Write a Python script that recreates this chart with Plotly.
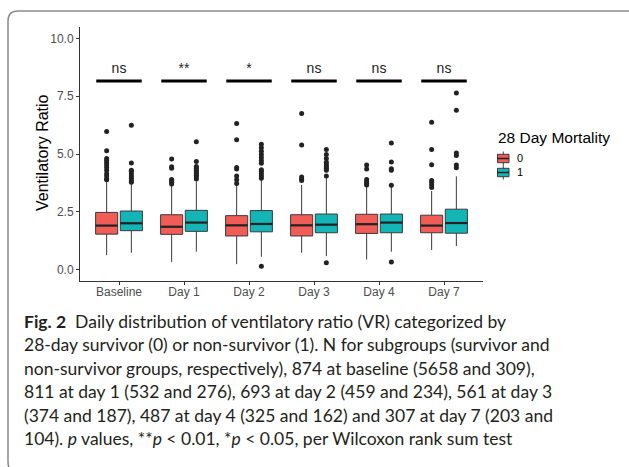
import plotly.graph_objects as go

categories = ["Baseline", "Day 1", "Day 2", "Day 3", "Day 4", "Day 7"]
groups = ["0", "1"]
group_colors = ["#F25C57", "#14B5B6"]

# precomputed box statistics per group (survivor 0, non-survivor 1)
q1 = {"0": [1.53, 1.52, 1.45, 1.45, 1.56, 1.59],
      "1": [1.68, 1.65, 1.63, 1.59, 1.59, 1.57]}
median = {"0": [1.90, 1.85, 1.91, 1.91, 1.96, 1.90],
          "1": [2.00, 2.03, 1.97, 1.94, 2.03, 2.01]}
q3 = {"0": [2.47, 2.37, 2.33, 2.37, 2.39, 2.35],
      "1": [2.53, 2.56, 2.55, 2.40, 2.40, 2.61]}
lowerfence = {"0": [0.62, 0.33, 0.23, 0.72, 0.43, 0.84],
              "1": [0.72, 0.77, 0.55, 0.58, 0.77, 1.01]}
upperfence = {"0": [3.82, 3.65, 3.66, 3.66, 3.60, 3.40],
              "1": [3.72, 3.80, 3.88, 3.98, 3.60, 4.03]}
outliers = {
    "0": [[3.88, 3.92, 4.05, 4.15, 4.30, 4.42, 4.52, 4.62, 4.72, 4.80, 5.14, 5.97],
          [3.70, 3.78, 3.85, 3.90, 4.38, 4.45, 4.78],
          [3.72, 3.88, 4.05, 4.35, 4.42, 5.62, 6.32],
          [3.85, 3.92, 4.00, 5.39, 6.75],
          [3.66, 3.72, 3.80, 3.90, 4.35, 4.52],
          [3.55, 3.67, 3.78, 3.85, 4.53, 5.20, 6.37]],
    "1": [[3.78, 3.85, 3.95, 4.05, 4.15, 4.25, 4.30, 4.61, 6.25],
          [3.92, 4.00, 4.08, 4.15, 4.22, 4.30, 4.38, 4.46, 4.68, 5.53],
          [0.14, 3.95, 4.05, 4.15, 4.25, 4.32, 4.60, 4.72, 4.85, 4.98, 5.12, 5.27, 5.42],
          [0.29, 4.05, 4.30, 4.38, 4.46, 4.55, 4.64, 4.80, 4.98, 5.19],
          [0.32, 3.65, 4.30, 4.36, 4.65, 5.48],
          [4.40, 4.52, 4.93, 5.04, 6.90, 7.64]],
}
sig_labels = ["ns", "**", "*", "ns", "ns", "ns"]
sig_y = 8.16

y_ticks = [0, 2.5, 5, 7.5, 10]
y_ticktext = ["0.0", "2.5", "5.0", "7.5", "10.0"]

dodge = {"0": -0.19, "1": 0.19}
box_w = 0.34
FONT = "Liberation Sans, Arial, sans-serif"
CAP_FONT = "Lato, Liberation Sans, sans-serif"

fig = go.Figure()
positions = list(range(1, len(categories) + 1))

for g, col in zip(groups, group_colors):
    xs = [p + dodge[g] for p in positions]
    fig.add_trace(go.Box(
        x=xs, q1=q1[g], median=median[g], q3=q3[g],
        lowerfence=lowerfence[g], upperfence=upperfence[g],
        width=box_w, whiskerwidth=0, fillcolor=col,
        line=dict(color="#3a3a3a", width=1), boxpoints=False,
        name=g, showlegend=False,
    ))
    # thicker median line (ggplot style)
    mx, my = [], []
    for x, m in zip(xs, median[g]):
        mx += [x - box_w / 2, x + box_w / 2, None]
        my += [m, m, None]
    fig.add_trace(go.Scatter(x=mx, y=my, mode="lines",
                             line=dict(color="#222222", width=2.2),
                             showlegend=False, hoverinfo="skip"))
    # outliers
    ox, oy = [], []
    for x, pts in zip(xs, outliers[g]):
        ox += [x] * len(pts)
        oy += pts
    fig.add_trace(go.Scatter(x=ox, y=oy, mode="markers",
                             marker=dict(color="#222222", size=5),
                             showlegend=False, hoverinfo="skip"))

# significance bars and labels
bx, by = [], []
for p in positions:
    bx += [p - 0.35, p + 0.35, None]
    by += [sig_y, sig_y, None]
fig.add_trace(go.Scatter(x=bx, y=by, mode="lines",
                         line=dict(color="black", width=3),
                         showlegend=False, hoverinfo="skip"))
fig.add_trace(go.Scatter(x=positions, y=[sig_y + 0.5] * len(positions),
                         mode="text", text=sig_labels,
                         textfont=dict(family=FONT, size=14, color="#222"),
                         showlegend=False, hoverinfo="skip"))

L, R, T, B = 80, 146, 27, 186
W, H = 629, 467
pw, ph = W - L - R, H - T - B


def px_x(x):
    return (x - L) / pw


def px_y(y):
    return (H - B - y) / ph


caption = [
    "<b>Fig. 2</b>  Daily distribution of ventilatory ratio (VR) categorized by",
    "28-day survivor (0) or non-survivor (1). N for subgroups (survivor and",
    "non-survivor groups, respectively), 874 at baseline (5658 and 309),",
    "811 at day 1 (532 and 276), 693 at day 2 (459 and 234), 561 at day 3",
    "(374 and 187), 487 at day 4 (325 and 162) and 307 at day 7 (203 and",
    "104). <i>p</i> values, **<i>p</i> < 0.01, *<i>p</i> < 0.05, per Wilcoxon rank sum test",
]
cap_y = [321, 344.5, 368, 391.5, 415, 438.5]
annotations = []
for txt, yy in zip(caption, cap_y):
    annotations.append(dict(
        text=txt, xref="paper", yref="paper", x=px_x(22), y=px_y(yy),
        xanchor="left", yanchor="middle", showarrow=False,
        font=dict(family=CAP_FONT, size=17.5, color="#231f20")))
annotations.append(dict(
    text="Ventilatory Ratio", xref="paper", yref="paper", x=px_x(42), y=px_y(153),
    xanchor="center", yanchor="middle", textangle=-90, showarrow=False,
    font=dict(family=FONT, size=16, color="black")))

# legend (manual, ggplot-like)
annotations.append(dict(
    text="28 Day Mortality", xref="paper", yref="paper", x=px_x(496), y=px_y(137.5),
    xanchor="left", yanchor="middle", showarrow=False,
    font=dict(family=FONT, size=15.5, color="black")))
shapes = []
key_y = [158.5, 172.5]
for g, col, ky in zip(groups, group_colors, key_y):
    kx0, kx1 = 497.5, 509
    cx = (kx0 + kx1) / 2
    shapes.append(dict(type="line", xref="paper", yref="paper",
                       x0=px_x(cx), x1=px_x(cx), y0=px_y(ky - 7), y1=px_y(ky + 7),
                       line=dict(color="#3a3a3a", width=1)))
    shapes.append(dict(type="rect", xref="paper", yref="paper",
                       x0=px_x(kx0), x1=px_x(kx1), y0=px_y(ky - 4.2), y1=px_y(ky + 4.2),
                       fillcolor=col, line=dict(color="#3a3a3a", width=1)))
    shapes.append(dict(type="line", xref="paper", yref="paper",
                       x0=px_x(kx0), x1=px_x(kx1), y0=px_y(ky), y1=px_y(ky),
                       line=dict(color="#222", width=1.5)))
annotations.append(dict(
    text="<br>".join(groups), xref="paper", yref="paper", x=px_x(515),
    y=px_y((key_y[0] + key_y[1]) / 2), align="left",
    xanchor="left", yanchor="middle", showarrow=False,
    font=dict(family=FONT, size=11, color="black")))

# rounded border
x0, x1 = px_x(8), px_x(637)
y0, y1 = px_y(11), px_y(472)
rx, ry = 10 / pw, 10 / ph
path = (f"M {x0 + rx},{y0} L {x1 - rx},{y0} Q {x1},{y0} {x1},{y0 - ry} "
        f"L {x1},{y1 + ry} Q {x1},{y1} {x1 - rx},{y1} L {x0 + rx},{y1} "
        f"Q {x0},{y1} {x0},{y1 + ry} L {x0},{y0 - ry} Q {x0},{y0} {x0 + rx},{y0} Z")
shapes.append(dict(type="path", path=path, xref="paper", yref="paper",
                   line=dict(color="#8a8a8a", width=1.5), layer="above"))

fig.update_layout(
    width=W, height=H, margin=dict(l=L, r=R, t=T, b=B),
    paper_bgcolor="white", plot_bgcolor="white",
    boxmode="overlay",
    showlegend=False,
    annotations=annotations,
    shapes=shapes,
    xaxis=dict(range=[0.4, 6.6], tickvals=positions, ticktext=categories,
               showline=True, linecolor="#333", linewidth=1, ticks="outside",
               ticklen=3, tickcolor="#333", showgrid=False, zeroline=False,
               ticklabelstandoff=-3,
               tickfont=dict(family=FONT, size=12, color="#4d4d4d")),
    yaxis=dict(range=[-0.5, 10.5], tickvals=y_ticks, ticktext=y_ticktext,
               showline=True, linecolor="#333", linewidth=1, ticks="outside",
               ticklen=3, tickcolor="#333", showgrid=False, zeroline=False,
               tickfont=dict(family=FONT, size=12, color="#4d4d4d")),
)

fig.write_html("out.html")
